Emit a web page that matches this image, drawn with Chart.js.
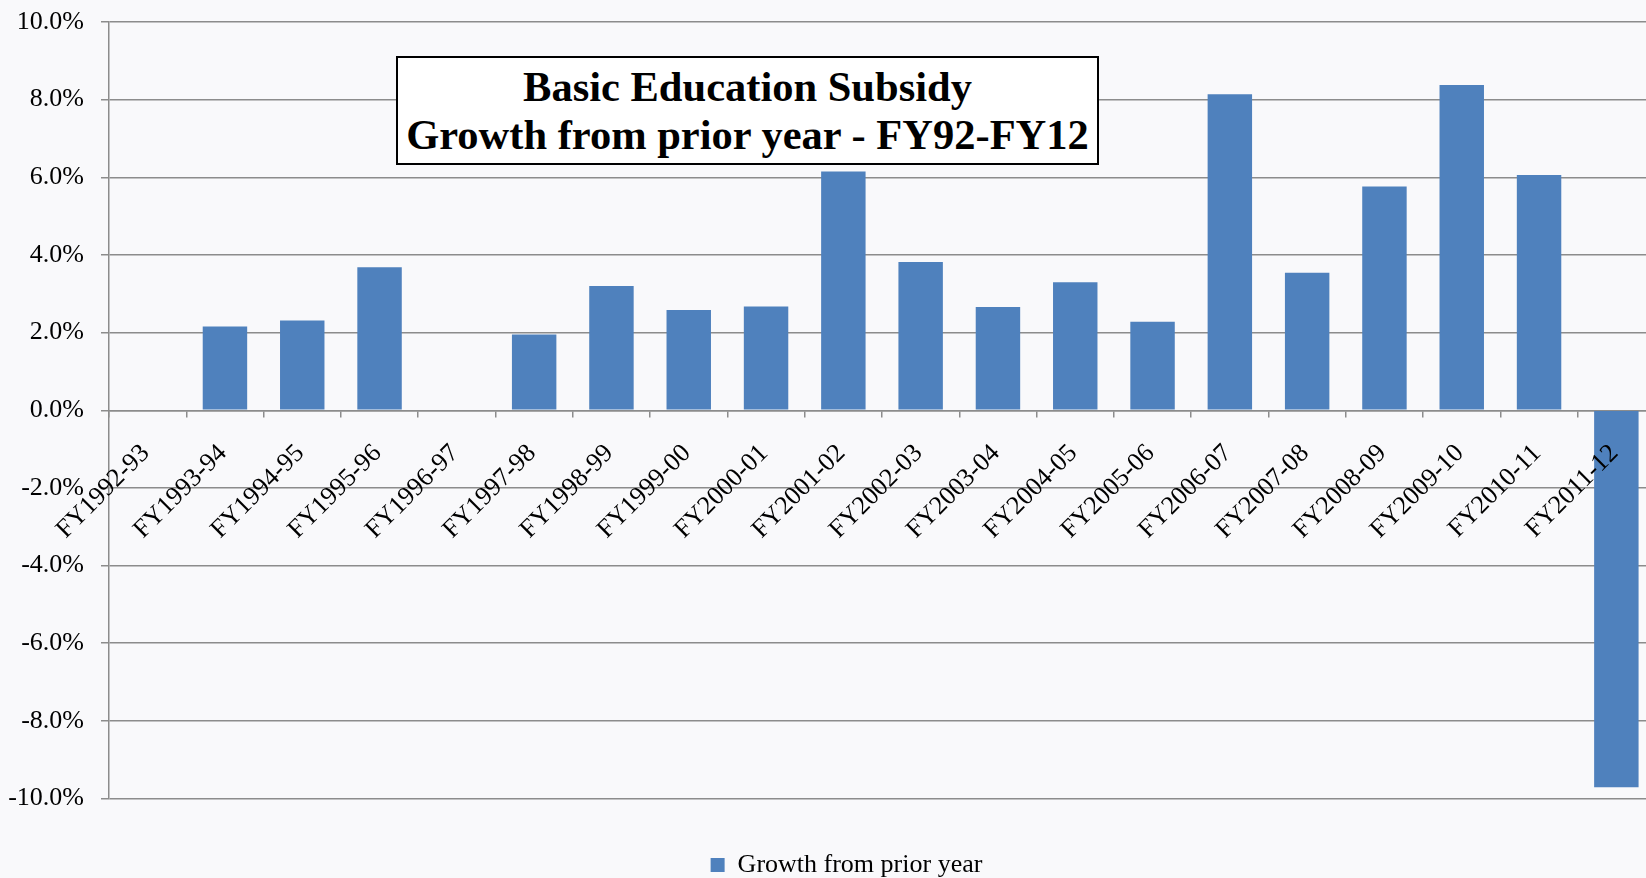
<!DOCTYPE html>
<html><head><meta charset="utf-8">
<script src="https://cdn.jsdelivr.net/npm/chart.js@4.4.1/dist/chart.umd.min.js"></script>
<style>
html,body{margin:0;padding:0;background:#f9f9fb;overflow:hidden;width:1646px;height:878px;}
#wrap{position:relative;width:1660px;height:888px;}
#c{position:absolute;left:0;top:0;}
#title{position:absolute;left:396px;top:56px;width:703px;height:109px;box-sizing:border-box;border:2.5px solid #000;background:#fff;
  font:bold 42.5px "Liberation Serif","Times New Roman",serif;line-height:48px;text-align:center;padding-top:4.8px;color:#000;white-space:nowrap;}
</style></head><body>
<div id="wrap"><canvas id="c" width="1660" height="888"></canvas><div id="title"></div></div>
<script>
const titleLines = ['Basic Education Subsidy', 'Growth from prior year - FY92-FY12'];
const seriesName = 'Growth from prior year';
const categories = ['FY1992-93','FY1993-94','FY1994-95','FY1995-96','FY1996-97','FY1997-98','FY1998-99','FY1999-00','FY2000-01','FY2001-02',
  'FY2002-03','FY2003-04','FY2004-05','FY2005-06','FY2006-07','FY2007-08','FY2008-09','FY2009-10','FY2010-11','FY2011-12'];
const growth = [0, 2.16, 2.31, 3.68, 0, 1.95, 3.20, 2.58, 2.67, 6.15, 3.82, 2.66, 3.30, 2.28, 8.14, 3.54, 5.76, 8.38, 6.06, -9.71];
const yTickLabels = ['-10.0%','-8.0%','-6.0%','-4.0%','-2.0%','0.0%','2.0%','4.0%','6.0%','8.0%','10.0%'];

document.getElementById('title').innerHTML = titleLines.map(s => '<div>' + s + '</div>').join('');

const FONT = '"Liberation Serif", "Times New Roman", serif';
Chart.defaults.font.family = FONT;
Chart.defaults.color = '#000';
const GRID = '#8c8c8c';

const legendShift = {
  id: 'legendShift',
  afterLayout(chart) {
    const l = chart.legend;
    if (l) { l.left += 19; l.right += 19; }
  }
};

new Chart(document.getElementById('c'), {
  type: 'bar',
  data: {
    labels: categories,
    datasets: [{
      label: seriesName,
      data: growth,
      backgroundColor: '#4f81bd',
      borderWidth: 0,
      categoryPercentage: 1,
      barPercentage: 0.575
    }]
  },
  plugins: [legendShift],
  options: {
    responsive: false,
    animation: false,
    layout: { padding: { left: 0, right: 5, top: 22, bottom: 0 } },
    plugins: {
      title: { display: false },
      tooltip: { enabled: false },
      legend: {
        position: 'bottom',
        labels: { font: { size: 26, family: FONT }, boxWidth: 14, boxHeight: 14, padding: 53.5, color: '#000' }
      }
    },
    scales: {
      x: {
        position: { y: 0 },
        offset: true,
        afterFit: (s) => { s.paddingLeft = 0; s.paddingRight = 0; },
        grid: { display: true, drawOnChartArea: false, drawTicks: true, tickLength: 6, color: GRID, lineWidth: 1.5, offset: true },
        border: { display: true, color: GRID, width: 1.5 },
        ticks: { z: 1, autoSkip: false, minRotation: 45, maxRotation: 45, padding: 22, labelOffset: -2,
                 font: { size: 26, family: FONT }, color: '#000' }
      },
      y: {
        min: -10, max: 10,
        afterFit: (s) => { s.width = 109; s.paddingTop = 0; s.paddingBottom = 0; },
        grid: { color: GRID, lineWidth: 1.5, drawTicks: true, tickLength: 8 },
        border: { display: true, color: GRID, width: 1.5 },
        ticks: { stepSize: 2, padding: 17, font: { size: 26, family: FONT }, color: '#000',
                 callback: (v, i) => yTickLabels[i] }
      }
    }
  }
});
</script>
</body></html>
